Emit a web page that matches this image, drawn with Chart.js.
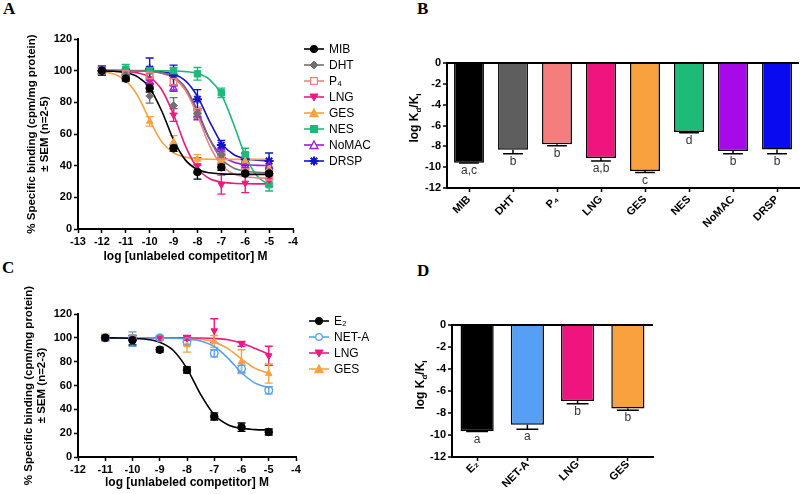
<!DOCTYPE html>
<html><head><meta charset="utf-8">
<script src="https://cdn.jsdelivr.net/npm/chart.js@4.4.1/dist/chart.umd.min.js"></script>
<style>
html,body{margin:0;padding:0;background:#fff;}
body{width:800px;height:494px;position:relative;overflow:hidden;font-family:"Liberation Sans",Arial,sans-serif;color:#000;}
canvas{position:absolute;}
.plabel{position:absolute;font-family:"Liberation Serif","Times New Roman",serif;font-weight:bold;font-size:17px;line-height:17px;}
.legend{position:absolute;font-size:12px;}
.legend .row{display:flex;align-items:center;height:16px;white-space:nowrap;}
.legend svg{display:block;margin-right:4px;}
.ytitle{position:absolute;transform:translate(-50%,-50%) rotate(-90deg);font-weight:bold;font-size:12px;white-space:nowrap;}
.ytitle sub{font-size:8px;}
</style>
</head><body>
<div class="plabel" style="left:3px;top:0px">A</div>
<div class="plabel" style="left:417px;top:0px">B</div>
<div class="plabel" style="left:2px;top:259px">C</div>
<div class="plabel" style="left:417px;top:262px">D</div>
<canvas id="cA" width="400" height="270" style="left:0;top:0"></canvas>
<canvas id="cB" width="400" height="250" style="left:400px;top:0"></canvas>
<canvas id="cC" width="400" height="244" style="left:0;top:250px"></canvas>
<canvas id="cD" width="400" height="244" style="left:400px;top:250px"></canvas>
<div class="ytitle" style="left:415px;top:118px">log K<sub>d</sub>/K<sub>i</sub></div>
<div class="ytitle" style="left:421px;top:385px">log K<sub>d</sub>/K<sub>i</sub></div>
<div class="legend" id="legA" style="left:303px;top:41px"></div>
<div class="legend" id="legC" style="left:308px;top:313px"></div>
<script>
// ---------------- Panel A data ----------------
const A_DOSES = [-12, -11, -10, -9, -8, -7, -6, -5];
const A_FIT_X = [-12, -11.5, -11, -10.5, -10, -9.5, -9, -8.5, -8, -7.5, -7, -6.5, -6, -5.5, -5];
const A_NAMES = ['MIB', 'DHT', 'P₄', 'LNG', 'GES', 'NES', 'NoMAC', 'DRSP'];
const A_MIB = [100, 95, 89, 51, 36, 39, 35, 35];
const A_MIB_SEM = [2, 1.5, 2.5, 2, 4.5, 2, 1, 1];
const A_MIB_FIT = [99.9, 99.6, 98.7, 96.1, 89.1, 74.7, 56.3, 43.5, 37.6, 35.5, 34.8, 34.6, 34.5, 34.5, 34.5];
const A_DHT = [100, 97, 84, 78, 73, 47, 36, 36];
const A_DHT_SEM = [2, 2, 4.5, 5, 3, 2, 2, 2];
const A_DHT_FIT = [100, 100, 99.9, 99.8, 99.6, 98.7, 96.2, 89.3, 75.0, 57.0, 44.3, 38.6, 36.5, 35.8, 35.6];
const A_P4 = [100, 98, 97, 93, 74, 46, 36, 33];
const A_P4_SEM = [2, 2, 2, 2, 3, 2, 2, 2];
const A_P4_FIT = [100, 100, 99.9, 99.8, 99.5, 98.5, 95.5, 87.6, 71.8, 53.0, 40.4, 34.9, 33.0, 32.3, 32.1];
const A_LNG = [100, 97, 94, 72, 40, 28, 29, 31];
const A_LNG_SEM = [2, 2, 2, 4, 5, 6, 6, 4];
const A_LNG_FIT = [99.9, 99.9, 99.6, 98.6, 95.8, 88.1, 72.3, 52.3, 38.3, 31.9, 29.6, 28.9, 28.6, 28.5, 28.5];
const A_GES = [100, 96, 68, 55, 44, 44, 43, 38];
const A_GES_SEM = [2, 2, 3, 4, 3, 2, 2, 3];
const A_GES_FIT = [99.3, 97.9, 93.7, 84.1, 68.8, 55.2, 48.1, 45.4, 44.4, 44.1, 44.0, 44.0, 44.0, 44.0, 44.0];
const A_NES = [100, 101, 100, 100, 98, 86, 47, 28];
const A_NES_SEM = [2, 3, 2, 2, 4, 3, 4, 4];
const A_NES_FIT = [100, 100, 100, 100, 100, 99.9, 99.8, 99.4, 98.2, 94.5, 85.0, 66.8, 46.4, 33.4, 27.9];
const A_NOMAC = [100, 99, 93, 89, 72, 48, 40, 40];
const A_NOMAC_SEM = [2, 2, 2, 2, 3, 3, 2, 3];
const A_NOMAC_FIT = [100, 100, 99.95, 99.85, 99.5, 98.5, 95.6, 88.0, 73.4, 57.1, 46.7, 42.3, 40.7, 40.2, 40.1];
const A_DRSP = [100, 99, 101, 97, 82, 53, 44, 43];
const A_DRSP_SEM = [3, 2, 7, 6.5, 6, 3, 4, 5];
const A_DRSP_FIT = [100, 100, 100, 99.9, 99.8, 99.3, 97.8, 93.6, 83.8, 68.2, 54.4, 47.2, 44.4, 43.5, 43.1];

// ---------------- Panel B data ----------------
const B_LABELS = ['MIB', 'DHT', 'P₄', 'LNG', 'GES', 'NES', 'NoMAC', 'DRSP'];
const B_VALUES = [-9.57, -8.33, -7.8, -9.13, -10.36, -6.63, -8.44, -8.3];
const B_SEM = [0.04, 0.38, 0.14, 0.28, 0.16, 0.06, 0.27, 0.41];
const B_GROUPS = ['a,c', 'b', 'b', 'a,b', 'c', 'd', 'b', 'b'];

// ---------------- Panel C data ----------------
const C_DOSES = [-11, -10, -9, -8, -7, -6, -5];
const C_FIT_X = [-11, -10.5, -10, -9.5, -9, -8.5, -8, -7.5, -7, -6.5, -6, -5.5, -5];
const C_NAMES = ['E₂', 'NET-A', 'LNG', 'GES'];
const C_E2 = [100, 98, 90, 73, 34, 25, 21];
const C_E2_SEM = [2, 4, 2, 2.5, 3, 3.5, 2.5];
const C_E2_FIT = [100, 99.9, 99.6, 98.8, 96.3, 89.4, 74.2, 52.5, 35.4, 27.1, 24.0, 23.0, 22.7];
const C_NETA = [100, 99, 100, 97, 87, 74, 56];
const C_NETA_SEM = [2, 6, 2, 3, 3, 3, 3];
const C_NETA_FIT = [100, 100, 100, 100, 99.9, 99.7, 99.1, 97.4, 92.7, 83.0, 70.7, 62.0, 58.1];
const C_LNG = [100, 100, 100, 100, 106, 95, 85];
const C_LNG_SEM = [2, 2, 1, 2, 10, 2, 8];
const C_LNG_FIT = [100, 100, 100, 100, 100, 100, 99.9, 99.8, 99.4, 98.4, 95.7, 91.0, 86.3];
const C_GES = [100, 100, 100, 94, 97, 80, 70];
const C_GES_SEM = [3, 2, 1, 6, 5, 10, 8];
const C_GES_FIT = [100, 100, 100, 100, 100, 99.9, 99.6, 98.8, 96.4, 90.9, 82.2, 74.4, 70.4];

// ---------------- Panel D data ----------------
const D_LABELS = ['E₂', 'NET-A', 'LNG', 'GES'];
const D_VALUES = [-9.66, -9.07, -6.9, -7.6];
const D_SEM = [0.03, 0.4, 0.26, 0.14];
const D_GROUPS = ['a', 'a', 'b', 'b'];

// ---------------- styles ----------------
const FONT = "'Liberation Sans', Arial, sans-serif";
Chart.defaults.font.family = FONT;
Chart.defaults.color = '#000';
Chart.defaults.animation = false;

const STYLE = {
  'MIB':   {color: '#000000', shape: 'circle', filled: true},
  'DHT':   {color: '#707070', shape: 'rectRot', filled: true},
  'P₄':    {color: '#f08282', shape: 'rect', filled: false},
  'LNG':   {color: '#ec1a7e', shape: 'triDown', filled: true},
  'GES':   {color: '#f9a23f', shape: 'triangle', filled: true},
  'NES':   {color: '#1db97a', shape: 'rect', filled: true},
  'NoMAC': {color: '#a01ae0', shape: 'triangle', filled: false},
  'DRSP':  {color: '#1414c8', shape: 'star', filled: true},
  'E₂':    {color: '#000000', shape: 'circle', filled: true},
  'NET-A': {color: '#5aa2ee', shape: 'circle', filled: false}
};
const B_COLORS = ['#000000', '#5e5e5e', '#f47e7e', '#f0147f', '#f9a03f', '#1dba78', '#a60ae8', '#0a0af0'];
const D_COLORS = ['#000000', '#55a0f5', '#f0147f', '#f9a03f'];

const errorBars = {
  id: 'errorBars',
  beforeDatasetsDraw(chart) {
    const ctx = chart.ctx, ys = chart.scales.y;
    chart.data.datasets.forEach((ds, di) => {
      if (!ds.sem) return;
      const meta = chart.getDatasetMeta(di);
      ctx.save();
      ctx.strokeStyle = ds.borderColor;
      ctx.lineWidth = 1.4;
      meta.data.forEach((pt, i) => {
        const e = ds.sem[i];
        const v = ds.data[i].y;
        const y1 = ys.getPixelForValue(v + e), y2 = ys.getPixelForValue(v - e);
        const x = pt.x, w = 4;
        ctx.beginPath();
        ctx.moveTo(x, y1); ctx.lineTo(x, y2);
        ctx.moveTo(x - w, y1); ctx.lineTo(x + w, y1);
        ctx.moveTo(x - w, y2); ctx.lineTo(x + w, y2);
        ctx.stroke();
      });
      ctx.restore();
    });
  }
};

function buildLineDatasets(names, doses, fitX, pts, sems, fits) {
  const out = [];
  names.forEach((n, k) => {
    const st = STYLE[n];
    out.push({
      label: n,
      data: doses.map((x, i) => ({x: x, y: pts[k][i]})),
      sem: sems[k],
      showLine: false,
      borderColor: st.color,
      backgroundColor: st.filled ? st.color : 'rgba(255,255,255,0)',
      pointStyle: st.shape === 'triDown' ? 'triangle' : st.shape,
      rotation: st.shape === 'triDown' ? 180 : 0,
      pointRadius: st.shape === 'star' ? 4.5 : (st.shape === 'rect' ? 4.5 : 3.8),
      pointBorderWidth: st.filled ? (st.shape === 'star' ? 2 : 1) : 1.4,
      order: 0
    });
  });
  names.forEach((n, k) => {
    const st = STYLE[n];
    out.push({
      label: n + ' fit',
      data: fitX.map((x, i) => ({x: x, y: fits[k][i]})),
      borderColor: st.color,
      borderWidth: 1.6,
      pointRadius: 0,
      cubicInterpolationMode: 'monotone',
      fill: false,
      order: 1
    });
  });
  return out;
}

function lineOptions(xmin, xmax, ytitle, pad, yTitlePad, xh) {
  const tickFont = {size: 11, weight: 'bold'};
  return {
    responsive: false,
    animation: false,
    layout: {padding: pad},
    plugins: {legend: {display: false}, tooltip: {enabled: false}},
    scales: {
      x: {
        type: 'linear', min: xmin, max: xmax,
        ticks: {stepSize: 1, font: tickFont, padding: 2, maxRotation: 0, autoSkip: false, color: '#000'},
        grid: {drawOnChartArea: false, drawTicks: true, tickLength: 4, tickColor: '#000', tickWidth: 1.5},
        border: {display: true, color: '#000', width: 2},
        title: {display: true, text: 'log [unlabeled competitor] M', font: {size: 12, weight: 'bold'}, padding: {top: 0, bottom: 0}, color: '#000'},
        afterFit: s => { s.height = xh; }
      },
      y: {
        min: 0, max: 120,
        ticks: {stepSize: 20, font: tickFont, padding: 2, color: '#000'},
        grid: {drawOnChartArea: false, drawTicks: true, tickLength: 4, tickColor: '#000', tickWidth: 1.5},
        border: {display: true, color: '#000', width: 2},
        title: {display: true, text: ytitle, font: {size: 11.5, weight: 'bold', lineHeight: 1.1}, padding: {top: yTitlePad, bottom: 0}, color: '#000'},
        afterFit: s => { s.width = 78; }
      }
    }
  };
}

new Chart(document.getElementById('cA'), {
  type: 'line',
  data: {datasets: buildLineDatasets(A_NAMES, A_DOSES, A_FIT_X,
    [A_MIB, A_DHT, A_P4, A_LNG, A_GES, A_NES, A_NOMAC, A_DRSP],
    [A_MIB_SEM, A_DHT_SEM, A_P4_SEM, A_LNG_SEM, A_GES_SEM, A_NES_SEM, A_NOMAC_SEM, A_DRSP_SEM],
    [A_MIB_FIT, A_DHT_FIT, A_P4_FIT, A_LNG_FIT, A_GES_FIT, A_NES_FIT, A_NOMAC_FIT, A_DRSP_FIT])},
  options: lineOptions(-13, -4, ['% Specific binding (cpm/mg protein)', '± SEM (n=2-5)'], {left: 0, top: 39, right: 107, bottom: 6}, 26, 35),
  plugins: [errorBars]
});

new Chart(document.getElementById('cC'), {
  type: 'line',
  data: {datasets: buildLineDatasets(C_NAMES, C_DOSES, C_FIT_X,
    [C_E2, C_NETA, C_LNG, C_GES],
    [C_E2_SEM, C_NETA_SEM, C_LNG_SEM, C_GES_SEM],
    [C_E2_FIT, C_NETA_FIT, C_LNG_FIT, C_GES_FIT])},
  options: lineOptions(-12, -4, ['% Specific binding (cpm/mg protein)', '± SEM (n=2-3)'], {left: 0, top: 64, right: 104, bottom: 4}, 23, 33),
  plugins: [errorBars]
});

// ---------------- bar charts ----------------
const barExtras = {
  id: 'barExtras',
  afterDatasetsDraw(chart) {
    const ds = chart.data.datasets[0], meta = chart.getDatasetMeta(0);
    const ys = chart.scales.y, ctx = chart.ctx;
    ctx.save();
    meta.data.forEach((bar, i) => {
      const v = ds.data[i], e = ds.sem[i];
      const yEnd = ys.getPixelForValue(v), yErr = ys.getPixelForValue(v - e);
      const hw = bar.width * 0.33;
      ctx.strokeStyle = '#000'; ctx.lineWidth = 1.5;
      ctx.beginPath();
      ctx.moveTo(bar.x, yEnd); ctx.lineTo(bar.x, yErr);
      ctx.moveTo(bar.x - hw, yErr); ctx.lineTo(bar.x + hw, yErr);
      ctx.stroke();
      ctx.fillStyle = '#333';
      ctx.font = '12px ' + FONT;
      ctx.textAlign = 'center'; ctx.textBaseline = 'top';
      ctx.fillText(ds.groups[i], bar.x, yErr + 2);
    });
    ctx.restore();
  }
};

function barOptions(pad, yw, xh, barPct, tickPad) {
  const tickFont = {size: 11, weight: 'bold'};
  return {
    responsive: false,
    animation: false,
    layout: {padding: pad},
    plugins: {legend: {display: false}, tooltip: {enabled: false}},
    datasets: {bar: {categoryPercentage: 1, barPercentage: barPct}},
    scales: {
      x: {
        offset: true,
        ticks: {minRotation: 45, maxRotation: 45, autoSkip: false, font: tickFont, padding: tickPad, color: '#000'},
        grid: {offset: false, drawOnChartArea: false, drawTicks: true, tickLength: 4, tickColor: '#000', tickWidth: 1.5},
        border: {display: true, color: '#000', width: 2},
        afterFit: s => { s.height = xh; }
      },
      y: {
        min: -12, max: 0,
        ticks: {stepSize: 2, font: tickFont, padding: 2, color: '#000'},
        grid: {
          color: c => (c.tick && c.tick.value === 0) ? '#000' : 'rgba(0,0,0,0)',
          lineWidth: c => (c.tick && c.tick.value === 0) ? 2 : 0,
          drawTicks: true, tickLength: 4, tickColor: '#000', tickWidth: 1.5
        },
        border: {display: true, color: '#000', width: 2},
        afterFit: s => { s.width = yw; }
      }
    }
  };
}

new Chart(document.getElementById('cB'), {
  type: 'bar',
  data: {labels: B_LABELS, datasets: [{data: B_VALUES, sem: B_SEM, groups: B_GROUPS,
    backgroundColor: B_COLORS, borderColor: '#000', borderWidth: 1.5}]},
  options: barOptions({left: 0, top: 63, right: 1, bottom: 7}, 47, 55, 0.68, 1),
  plugins: [barExtras]
});

new Chart(document.getElementById('cD'), {
  type: 'bar',
  data: {labels: D_LABELS, datasets: [{data: D_VALUES, sem: D_SEM, groups: D_GROUPS,
    backgroundColor: D_COLORS, borderColor: '#000', borderWidth: 1.5}]},
  options: barOptions({left: 0, top: 75, right: 147, bottom: 7}, 52, 30, 0.66, -3),
  plugins: [barExtras]
});

// ---------------- HTML legends ----------------
function icon(name) {
  const st = STYLE[name], c = st.color, f = st.filled ? c : '#fff';
  let m = '';
  switch (st.shape) {
    case 'circle': m = `<circle cx="11" cy="6" r="3.3" fill="${f}" stroke="${c}" stroke-width="1.3"/>`; break;
    case 'rectRot': m = `<polygon points="11,2 15,6 11,10 7,6" fill="${f}" stroke="${c}" stroke-width="1"/>`; break;
    case 'rect': m = `<rect x="7.6" y="2.6" width="6.8" height="6.8" fill="${f}" stroke="${c}" stroke-width="1.3"/>`; break;
    case 'triDown': m = `<polygon points="7,3 15,3 11,10" fill="${f}" stroke="${c}" stroke-width="1"/>`; break;
    case 'triangle': m = `<polygon points="11,2 15,9.5 7,9.5" fill="${f}" stroke="${c}" stroke-width="1.3"/>`; break;
    case 'star': m = `<g stroke="${c}" stroke-width="2"><line x1="11" y1="1.5" x2="11" y2="10.5"/><line x1="6.5" y1="6" x2="15.5" y2="6"/><line x1="7.8" y1="2.8" x2="14.2" y2="9.2"/><line x1="14.2" y1="2.8" x2="7.8" y2="9.2"/></g>`; break;
  }
  return `<svg width="22" height="12"><line x1="1" y1="6" x2="21" y2="6" stroke="${c}" stroke-width="1.6"/>${m}</svg>`;
}
function buildLegend(id, names) {
  document.getElementById(id).innerHTML = names.map(n =>
    `<div class="row">${icon(n)}<span>${n}</span></div>`).join('');
}
buildLegend('legA', A_NAMES);
buildLegend('legC', C_NAMES);
</script>
</body></html>
